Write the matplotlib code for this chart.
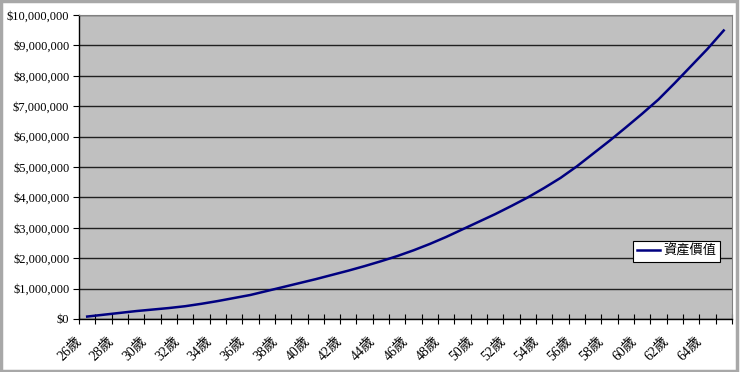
import matplotlib.pyplot as plt
from matplotlib.patches import Rectangle
from matplotlib.ticker import FuncFormatter, FixedLocator
from matplotlib.transforms import ScaledTranslation

plt.rcParams['font.family'] = ['Liberation Serif', 'Noto Sans CJK TC']

# 年齡 26 ~ 65 歲
edades = list(range(26, 66))
# 資產價值 (百萬元), 從圖上估計
valores = [0.08, 0.14, 0.20, 0.26, 0.31, 0.36, 0.42, 0.50, 0.59, 0.69,
           0.79, 0.92, 1.05, 1.18, 1.31, 1.45, 1.59, 1.74, 1.90, 2.07,
           2.26, 2.47, 2.70, 2.95, 3.20, 3.45, 3.72, 4.00, 4.31, 4.64,
           5.02, 5.44, 5.86, 6.30, 6.75, 7.22, 7.76, 8.32, 8.88, 9.49]
valores = [v * 1e6 for v in valores]
etiquetas = [f'{e}歲' for e in edades]
serie = '資產價值'

fig = plt.figure(figsize=(7.4, 3.72), dpi=100)
fig.patch.set_facecolor('white')
fig.patches.append(Rectangle((0.002, 0.003), 0.994, 0.993, transform=fig.transFigure,
                             fill=False, edgecolor='#a8a8a8', linewidth=2.5))

ax = fig.add_axes([0.1068, 0.1425, 0.8822, 0.8172])
ax.set_facecolor('#c0c0c0')

x = list(range(len(edades)))
ax.plot(x, valores, color='#000080', linewidth=1.8, label=serie, zorder=3)

ax.set_xlim(-0.5, len(edades) - 0.5)
ax.set_ylim(0, 10e6)
ax.set_yticks([i * 1e6 for i in range(11)])
ax.yaxis.set_major_formatter(FuncFormatter(lambda v, p: f'${v:,.0f}'))
ax.grid(axis='y', color='#202020', linewidth=1.0, zorder=1)

# ticks between categories
ax.xaxis.set_major_locator(FixedLocator([i - 0.5 for i in range(len(edades) + 1)]))
ax.set_xticklabels([])
ax.tick_params(axis='x', which='major', direction='inout', length=7, width=0.8, color='black')
ax.tick_params(axis='y', direction='out', length=4, width=0.8, labelsize=9, pad=3)

# labels every 2 years, rotated and shifted left like Excel
desplazamiento = ax.get_xaxis_transform() + ScaledTranslation(-0.125, -0.155, fig.dpi_scale_trans)
for xi, et in zip(x[::2], etiquetas[::2]):
    ax.text(xi, 0, et, transform=desplazamiento, rotation=45, rotation_mode='anchor',
            ha='right', va='top', fontsize=10, clip_on=False)

for s in ['top', 'right']:
    ax.spines[s].set_color('#808080')
for s in ['left', 'bottom']:
    ax.spines[s].set_color('black')
    ax.spines[s].set_linewidth(1.0)

leg = ax.legend(loc='lower left', bbox_to_anchor=(0.848, 0.1875), fontsize=9.5,
                frameon=True, fancybox=False, framealpha=1, edgecolor='black',
                borderpad=0.3, handlelength=1.8, handletextpad=0.2, borderaxespad=0)
leg.get_frame().set_linewidth(0.8)

fig.savefig('out.png', dpi=100)
